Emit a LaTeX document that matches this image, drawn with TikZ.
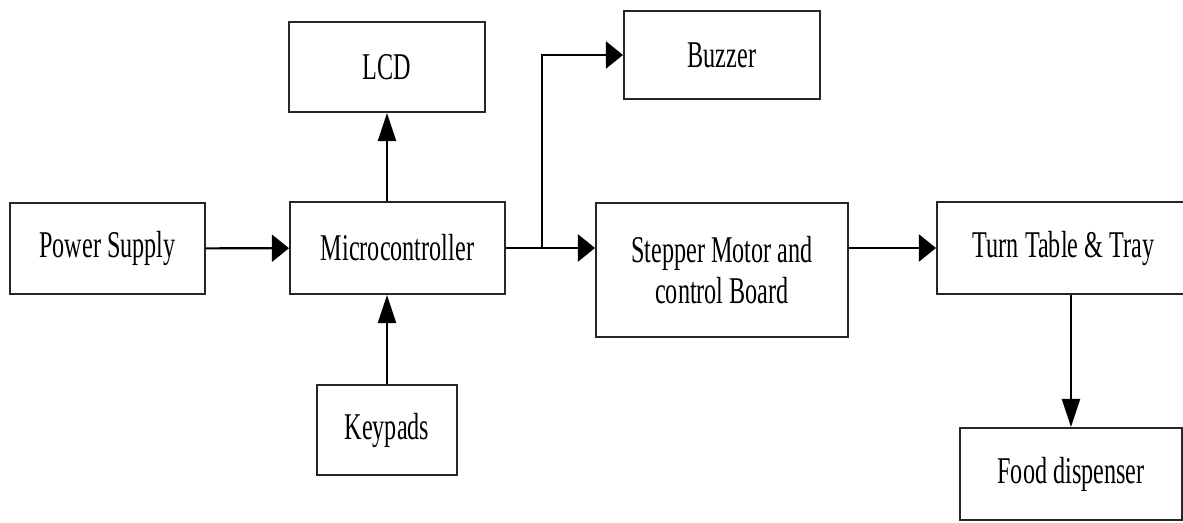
\documentclass[tikz,border=0pt]{standalone}
\usepackage{fontspec}
\setmainfont{Liberation Serif}[FakeStretch=0.64]
\usetikzlibrary{arrows.meta, positioning, calc}

\begin{document}
\begin{tikzpicture}[x=0.02cm, y=-0.02cm,
  block/.style={rectangle, draw=black!85, line width=1.2pt, align=center, inner sep=0pt,
    font=\fontsize{21.5}{23.5}\selectfont},
  harrow/.style={line width=1.2pt, -{Triangle[length=0.34cm, width=0.54cm]}},
  varrow/.style={line width=1.2pt, -{Triangle[length=0.56cm, width=0.36cm]}}]

\useasboundingbox (0,0) rectangle (1183,523);

\node[block, minimum width=3.9cm, minimum height=1.82cm] (power) at (107.5,248.5) {Power Supply};
\node[block, minimum width=4.3cm, minimum height=1.84cm] (micro) at (397.5,248) {Microcontroller};
\node[block, minimum width=3.92cm, minimum height=1.8cm] (lcd) at (387,67) {LCD};
\node[block, minimum width=2.8cm, minimum height=1.8cm] (keypads) at (387,430) {Keypads};
\node[block, minimum width=3.92cm, minimum height=1.76cm] (buzzer) at (722,55) {Buzzer};
\node[block, minimum width=5.04cm, minimum height=2.68cm] (stepper) at (722,270) {Stepper Motor and\\control Board};
\node[block, minimum width=5.06cm, minimum height=1.84cm] (turn) at (1063.5,248) {Turn Table \& Tray};
\node[block, minimum width=4.44cm, minimum height=1.84cm] (food) at (1071,474) {Food dispenser};

\coordinate (split) at (542,248);

\draw[harrow] (power) -- (micro);
\draw[varrow] (lcd.south |- micro.north) -- (lcd.south);
\draw[varrow] (keypads.north) -- (keypads.north |- micro.south);
\draw[harrow] (micro.east |- split) -- (split -| stepper.west);
\draw[harrow] (split) |- (buzzer.west);
\draw[harrow] (stepper.east |- turn.west) -- (turn.west);
\draw[varrow] (food.north |- turn.south) -- (food.north);

\end{tikzpicture}
\end{document}
